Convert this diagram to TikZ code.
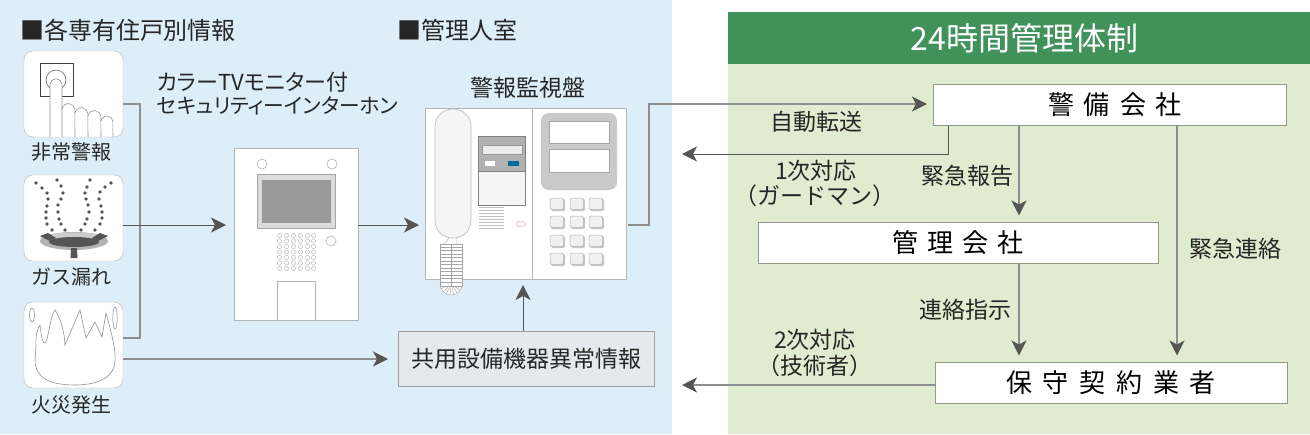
\documentclass[tikz,border=0pt]{standalone}
\usepackage{fontspec}
\setmainfont{Noto Sans CJK JP}
\newfontfamily\jpprop[RawFeature=+palt]{Noto Sans CJK JP}
\usetikzlibrary{arrows.meta}
\definecolor{bgblue}{HTML}{DDEEF9}
\definecolor{bggreen}{HTML}{E0ECCF}
\definecolor{headgreen}{HTML}{40915A}
\definecolor{wireline}{HTML}{8E8E8E}
\definecolor{wiredark}{HTML}{555555}
\definecolor{edgegray}{HTML}{B4B8BA}
\definecolor{commonfill}{HTML}{E4E9EF}
\newcommand{\gp}[1]{\hspace{#1pt}}
\tikzset{
  iconbox/.style={draw=edgegray,fill=white,rounded corners=9pt,minimum width=99pt,minimum height=86pt,inner sep=0pt,outer sep=0pt},
  devbox/.style={draw=edgegray,fill=white,inner sep=0pt,outer sep=0pt},
  orgbox/.style={draw=black!35!bggreen,fill=white,inner sep=0pt,outer sep=0pt,minimum height=41pt,font=\fontsize{26}{26}\selectfont},
  lbl/.style={inner sep=0pt,outer sep=0pt,font=\fontsize{23}{23}\selectfont,text=black!85},
  lblsmall/.style={lbl,font=\fontsize{20}{20}\selectfont},
  ttl/.style={lbl,anchor=west,font=\fontsize{24}{24}\selectfont},
  wire/.style={draw=wireline,line width=1.6pt},
  wirethin/.style={draw=wiredark,line width=1pt},
  arr/.style={-{Stealth[length=15pt,width=15pt,inset=4pt,color=wiredark]}},
  thin gray/.style={draw=gray!85,line width=.6pt},
}
\begin{document}
\begin{tikzpicture}[x=1pt,y=-1pt,line cap=butt,line join=miter]
  \useasboundingbox (0,0) rectangle (1310,434);
  % backgrounds
  \fill[white] (0,0) rectangle (1310,434);
  \fill[bgblue] (0,0) rectangle (672,434);
  \fill[bggreen] (728,12) rectangle (1310,434);
  \node[fill=headgreen,text=white,minimum width=582pt,minimum height=52pt,inner sep=0pt,outer sep=0pt,font=\fontsize{32}{32}\selectfont] (head) at (1019,38) {\gp{11}24時間管理体制};
  % headings
  \node[ttl] (ttlunit) at (20,30) {■各専有住戸別情報};
  \node[ttl] (ttlroom) at (397,30) {■管理人室};
  \node[lbl,anchor=west,font=\fontsize{22}{22}\jpprop] (ttlcam1) at (157,82) {カラーTVモニター付};
  \node[lbl,anchor=west,font=\fontsize{20.7}{21}\jpprop] (ttlcam2) at (157,106) {セキュリティーインターホン};
  \node[lbl] (ttlpanel) at (528,88) {警報監視盤};
  % three icons on the left
  \node[iconbox] (alarm) at (73.5,94) {};
  \node[iconbox] (gas) at (73.5,218) {};
  \node[iconbox] (fire) at (73.5,345) {};
  \node[lblsmall] (lblalarm) at (71,152) {非常警報};
  \node[lblsmall] (lblgas) at (71,277) {ガス漏れ};
  \node[lblsmall] (lblfire) at (71,405) {火災発生};
  % push button
  \draw[draw=black!75,line width=.8pt] (40,63) rectangle (73,96);
  \draw[thin gray,draw=black!60] (56,80) circle (10);
  \draw[thin gray,fill=white] (50,137) -- (50,85) arc (180:360:6) -- (62,137);
  \draw[thin gray] (62,109) arc (190:350:6.5) -- (75,137);
  \draw[thin gray] (75,113) arc (190:350:6.5) -- (88,137);
  \draw[thin gray] (88,116) arc (190:350:6.5) -- (101,137);
  \draw[thin gray] (101,121) arc (190:350:6) -- (113,137);
  % leaking gas
  \foreach \px/\py in {36/183,42/188,47/193,48/199,47/206,46/212,46/218,47/224,52/230,
    57/180,61/186,63/193,61/199,58/205,58/212,59/219,61/224,65/230,
    90/180,87/187,85/193,86/199,88/205,89/212,87/219,85/224,81/230,
    111/183,105/187,100/192,99/199,101/206,102/212,102/218,100/224,95/230}
    \fill[wiredark] (\px,\py) circle (1.8);
  \fill[gray!60] (74,241) ellipse (34 and 9);
  \fill[gray!40] (74,236) ellipse (24 and 3.5);
  \fill[wiredark] (74,242) ellipse (25 and 5);
  \fill[wiredark] (40,236) -- (48,233) -- (56,238) -- (50,241) -- cycle;
  \fill[wiredark] (108,236) -- (100,233) -- (92,238) -- (98,241) -- cycle;
  \fill[wiredark] (70.5,258) -- (71,248) -- (77,248) -- (77.5,258) -- cycle;
  % flames
  \draw[thin gray] (36,347) .. controls (35,335) and (38,328) .. (40,325) .. controls (41,335) and (43,345) .. (45,343)
    .. controls (48,343) and (50,315) .. (55,310) .. controls (60,318) and (64,328) .. (65,345)
    -- (80,310) -- (86,338) -- (95,322) -- (102,337) -- (106,313)
    .. controls (112,335) and (116,350) .. (115,362) .. controls (114,376) and (100,385) .. (75,385)
    .. controls (50,385) and (35,378) .. (35,360) -- cycle;
  \draw[thin gray] (32,315) ellipse (2.5 and 7);
  \draw[thin gray] (115,318) ellipse (2.2 and 11);
  % intercom
  \node[devbox,minimum width=124pt,minimum height=172pt] (intercom) at (296,234) {};
  \draw[draw=gray!60,fill=white,line width=.6pt] (262,164) circle (5) (332,164) circle (5) (331,241) circle (5);
  \draw[draw=gray!70,fill=gray!28,line width=.8pt] (257,174) rectangle (335,228);
  \draw[draw=gray!80,fill=gray!80,line width=.5pt] (262,180) rectangle (330,222);
  \foreach \gx in {279.5,286.5,293.5,300.5,307.5,313.5}
    \foreach \gy in {235.5,241,246.5,252,257.5,263,268.5}
      \draw[draw=gray!60,line width=.4pt] (\gx,\gy) circle (2.1);
  \draw[draw=gray!60,line width=.7pt] (277,320) -- (277,281) -- (315,281) -- (315,320);
  % monitor panel
  \node[devbox,minimum width=201pt,minimum height=171pt] (panel) at (525.5,193.5) {};
  \draw[draw=edgegray,line width=.7pt] (532,108) -- (532,279);
  \draw[draw=gray!50,fill=white!96!black,line width=.7pt,rounded corners=17.5pt] (435,109) rectangle (471,238);
  \draw[draw=gray!60,fill=white,line width=.5pt] (451,284) ++(0:11) arc (0:180:11) -- cycle;
  \foreach \fan in {15,35,...,175}
    \draw[draw=gray!60,line width=.5pt] (451,284) ++(\fan:4) -- ++(\fan:7);
  \foreach \cx in {440.5,451.5}{
    \draw[draw=gray!70,fill=white,line width=.5pt] (\cx,244) rectangle ++(10.5,42);
    \foreach \cy in {247,250.5,...,285}
      \draw[draw=gray!70,line width=.5pt] (\cx,\cy) -- ++(10.5,0);
  }
  \draw[draw=gray!60,line width=.5pt] (444,244) -- (449,238) (456,244) -- (456,238);
  \draw[draw=gray,fill=gray!60,line width=.5pt] (478,136) rectangle (525,171);
  \draw[draw=gray!80,fill=gray!15,line width=.5pt] (482,145) rectangle (522,154);
  \fill[white] (485,161) rectangle (495,166);
  \fill[blue!30!cyan!60!black] (508,161) rectangle (519,166);
  \draw[draw=gray,fill=white!96!black,line width=.5pt] (478,171) rectangle (525,205);
  \foreach \sy in {207,210,...,229}
    \draw[draw=gray!50,line width=.6pt] (479,\sy) -- (504,\sy);
  \draw[draw=red!25,fill=gray!10,line width=.5pt] (521,224) ellipse (5 and 3);
  \fill[gray!42,rounded corners=8pt] (541,113) rectangle (617,190);
  \draw[draw=gray!70,fill=white,line width=.4pt] (549,121) rectangle (609,143) (549,149) rectangle (609,172);
  \foreach \kx in {550,570,589}
    \foreach \ky in {198,216,235,253}{
      \fill[gray!45,rounded corners=1.5pt] (\kx,\ky) ++(1,1) rectangle ++(14,12);
      \draw[draw=gray!60,fill=gray!12,line width=.5pt,rounded corners=1.5pt] (\kx,\ky) rectangle ++(13.5,11.5);
    }
  % common equipment box
  \node[devbox,draw=gray!75,fill=commonfill,minimum width=256pt,minimum height=55pt,font=\fontsize{23}{23}\selectfont,text=black!85] (common) at (526,358.5) {共用設備機器異常情報};
  % right side boxes
  \node[orgbox,minimum width=353pt] (guard) at (1109.5,105) {\gp{11}警\gp{10}備\gp{10}会\gp{10}社};
  \node[orgbox,minimum width=400pt] (mgmt) at (958,243) {管\gp{9}理\gp{9}会\gp{9}社\gp{8}};
  \node[orgbox,minimum width=352pt] (maint) at (1111,383) {保\gp{10.8}守\gp{10.8}契\gp{10.8}約\gp{10.8}業\gp{10.8}者\gp{4}};
  % free ends on the left of the white gap
  \coordinate (outone) at (682,154);
  \coordinate (outtwo) at (682,385);
  % connectors
  \draw[wire] ([yshift=-10pt]alarm.east) -| (140,338) -- ([yshift=7pt]fire.east);
  \draw[wirethin,arr,shorten >=8pt] ([yshift=-7pt]gas.east) -- ([yshift=9pt]intercom.west);
  \draw[wire,arr,shorten >=10pt] ([yshift=-14pt]fire.east) -- (common.west |- 0,359);
  \draw[wirethin,arr,shorten >=6pt] ([yshift=9pt]intercom.east) -- ([yshift=-31.5pt]panel.west);
  \draw[wirethin,arr,shorten >=6pt] (common.north -| 523,0) -- (panel.south -| 523,0);
  \draw[wire,arr,shorten >=6pt,shorten <=2pt] ([yshift=-31.5pt]panel.east) -- (649,225) -- (649,104) -- ([yshift=1pt]guard.west);
  \draw[wirethin,arr] (guard.south -| 948,0) -- (948,154) -- (outone);
  \draw[wire,arr,shorten >=7pt] (guard.south -| 1019,0) -- (mgmt.north -| 1019,0);
  \draw[wire,arr,shorten >=7pt] (mgmt.south -| 1019,0) -- (maint.north -| 1019,0);
  \draw[wire,arr,shorten >=7pt] (guard.south -| 1177,0) -- (maint.north -| 1177,0);
  \draw[wire,arr] (maint.west |- 0,385) -- (outtwo);
  % connector labels
  \node[lbl] (lblauto) at (816,122) {自動転送};
  \node[lbl] (lblfirst) at (816,171) {1次対応};
  \node[lbl] (lblguard) at (815,196) {（ガードマン）};
  \node[lbl] (lblreport) at (967,176) {緊急報告};
  \node[lbl] (lblcontact) at (1235,249) {緊急連絡};
  \node[lbl] (lblorder) at (965,310) {連絡指示};
  \node[lbl] (lblsecond) at (815,340) {2次対応};
  \node[lbl] (lbltech) at (815,366) {（技術者）};
\end{tikzpicture}
\end{document}
